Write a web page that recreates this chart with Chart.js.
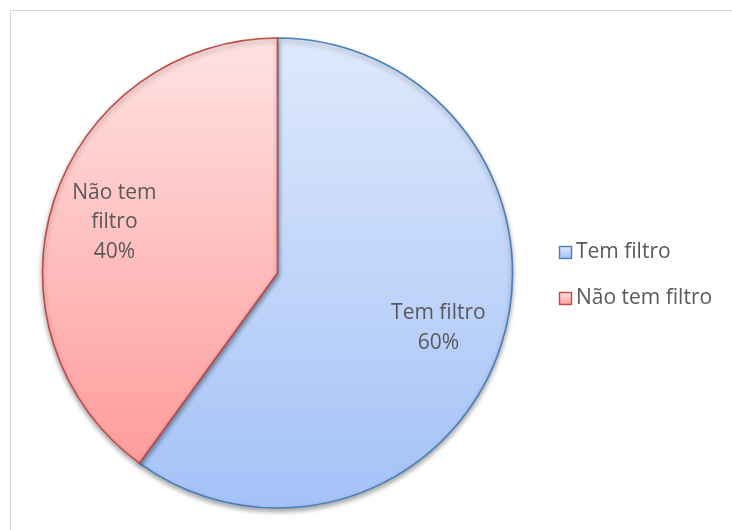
<!DOCTYPE html>
<html>
<head>
<meta charset="utf-8">
<script src="https://cdn.jsdelivr.net/npm/chart.js@4"></script>
<style>
  html, body { margin: 0; padding: 0; background: #fff; }
  #wrap { position: relative; width: 732px; height: 530px; }
  #frame { position: absolute; left: 10px; top: 10px; width: 740px; height: 540px; border: 1px solid #d9d9d9; box-sizing: border-box; }
  canvas { position: absolute; left: 0; top: 0; }
</style>
</head>
<body>
<div id="wrap">
  <div id="frame"></div>
  <canvas id="pieChart" width="732" height="530"></canvas>
</div>
<script>
const categorias = ['Tem filtro', 'Não tem filtro'];
const percentuais = [60, 40];
const rotulos = [['Tem filtro', '60%'], ['Não tem', 'filtro', '40%']];

const coresTopo = ['#dfe9fc', '#ffe2e2'];
const coresBase = ['#a3c2f7', '#ff9c9c'];
const coresBorda = ['#4a7ebb', '#be4b48'];

const RAIO = 235;
const fonte = '21px "Open Sans", Lato, sans-serif';

// gradiente vertical em cada fatia, do ponto mais alto ao mais baixo dela
function gradienteFatia(context) {
    const chart = context.chart;
    const area = chart.chartArea;
    const i = context.dataIndex;
    if (!area) return coresTopo[i];
    const cy = (area.top + area.bottom) / 2;
    const total = percentuais.reduce((a, b) => a + b, 0);
    const antes = percentuais.slice(0, i).reduce((a, b) => a + b, 0);
    const ini = -Math.PI / 2 + 2 * Math.PI * antes / total;
    const fim = ini + 2 * Math.PI * percentuais[i] / total;
    const angs = [ini, fim];
    [Math.PI / 2, 3 * Math.PI / 2].forEach(a => { if (a > ini && a < fim) angs.push(a); });
    let topo = cy, base = cy;
    angs.forEach(a => {
        const py = cy + RAIO * Math.sin(a);
        topo = Math.min(topo, py);
        base = Math.max(base, py);
    });
    const g = chart.ctx.createLinearGradient(0, topo, 0, base);
    g.addColorStop(0, coresTopo[i]);
    g.addColorStop(1, coresBase[i]);
    return g;
}

const sombraPlugin = {
    id: 'sombra',
    beforeDatasetDraw(chart) {
        const ctx = chart.ctx;
        ctx.save();
        ctx.shadowColor = 'rgba(0,0,0,0.35)';
        ctx.shadowBlur = 5;
        ctx.shadowOffsetY = 3;
    },
    afterDatasetDraw(chart) {
        chart.ctx.restore();
    }
};

const rotulosPlugin = {
    id: 'rotulos',
    afterDatasetsDraw(chart) {
        const ctx = chart.ctx;
        const meta = chart.getDatasetMeta(0);
        ctx.save();
        ctx.font = fonte;
        ctx.fillStyle = '#595959';
        ctx.textAlign = 'center';
        ctx.textBaseline = 'middle';
        meta.data.forEach((arc, i) => {
            const meio = (arc.startAngle + arc.endAngle) / 2;
            const r = arc.outerRadius * (i === 0 ? 0.72 : 0.73);
            const cx = arc.x + r * Math.cos(meio);
            const cy = arc.y + r * Math.sin(meio) + 2.5;
            const linhas = rotulos[i];
            const lh = 29.5;
            linhas.forEach((t, k) => {
                ctx.fillText(t, cx, cy + (k - (linhas.length - 1) / 2) * lh);
            });
        });
        ctx.restore();
    }
};

const legendaPlugin = {
    id: 'legendaLateral',
    afterDraw(chart) {
        const ctx = chart.ctx;
        ctx.save();
        ctx.font = fonte;
        ctx.textBaseline = 'middle';
        ctx.textAlign = 'left';
        categorias.forEach((c, i) => {
            const y = 252.5 + i * 46;
            const g = ctx.createLinearGradient(0, y - 6, 0, y + 6);
            g.addColorStop(0, coresTopo[i]);
            g.addColorStop(1, coresBase[i]);
            ctx.fillStyle = g;
            ctx.fillRect(559.5, y - 6, 12, 12);
            ctx.strokeStyle = coresBorda[i];
            ctx.lineWidth = 1.4;
            ctx.strokeRect(559.5, y - 6, 12, 12);
            ctx.fillStyle = '#595959';
            ctx.fillText(c, 576, y);
        });
        ctx.restore();
    }
};

new Chart(document.getElementById('pieChart').getContext('2d'), {
    type: 'pie',
    data: {
        labels: categorias,
        datasets: [{
            data: percentuais,
            backgroundColor: gradienteFatia,
            borderColor: coresBorda,
            borderWidth: 1.6,
            borderJoinStyle: 'miter'
        }]
    },
    options: {
        responsive: false,
        animation: false,
        radius: RAIO,
        layout: { padding: { left: 42, right: 219, top: 38, bottom: 22 } },
        plugins: {
            legend: { display: false },
            tooltip: { enabled: false }
        }
    },
    plugins: [sombraPlugin, rotulosPlugin, legendaPlugin]
});
</script>
</body>
</html>
